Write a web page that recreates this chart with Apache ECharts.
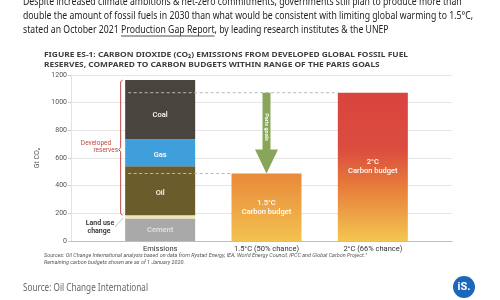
<!DOCTYPE html>
<html><head><meta charset="utf-8">
<script src="https://cdn.jsdelivr.net/npm/echarts@6/dist/echarts.min.js"></script>
<style>html,body{margin:0;padding:0;background:#fff}#c{width:500px;height:300px}</style>
</head><body><div id="c"></div>
<script>
// ---- data ----
const categories = ['Emissions', '1.5°C (50% chance)', '2°C (66% chance)'];
const cement   = [162, '-', '-'];
const landUse  = [24, '-', '-'];
const oil      = [355, '-', '-'];
const gas      = [195, '-', '-'];
const coal     = [427, '-', '-'];
const budget15 = ['-', 488, '-'];
const budget2  = ['-', '-', 1072];
const yTickValues = [0, 200, 400, 600, 800, 1000, 1200];
const budgetLabels = ['', '1.5°C\nCarbon budget', '2°C\nCarbon budget'];

const headline = [
  'Despite increased climate ambitions & net-zero commitments, governments still plan to produce more than',
  'double the amount of fossil fuels in 2030 than what would be consistent with limiting global warming to 1.5°C,',
  'stated an October 2021 Production Gap Report, by leading research institutes & the UNEP'
];
const figTitle = [
  'FIGURE ES-1: CARBON DIOXIDE (CO₂) EMISSIONS FROM DEVELOPED GLOBAL FOSSIL FUEL',
  'RESERVES, COMPARED TO CARBON BUDGETS WITHIN RANGE OF THE PARIS GOALS'
];
const sources = [
  'Sources: Oil Change International analysis based on data from Rystad Energy, IEA, World Energy Council, IPCC and Global Carbon Project.¹',
  'Remaining carbon budgets shown are as of 1 January 2020.'
];
const footer = 'Source: Oil Change International';

// ---- helpers ----
const mctx = document.createElement('canvas').getContext('2d');
function w(text, font){ mctx.font = font; return mctx.measureText(text).width; }

const FF = 'Roboto, "Noto Sans", sans-serif';
const headFont = '11.5px "Noto Sans", sans-serif';
const headScale = 450 / w(headline[1], headFont);
const titleFont = 'bold 7.5px "Noto Sans", sans-serif';
const titleScale = 364 / w(figTitle[0], titleFont);
const srcFont = 'italic 5.5px Roboto, sans-serif';
const srcScale = 323 / w(sources[0], srcFont);
const footFont = '10px "Noto Sans", sans-serif';
const footScale = 125 / w(footer, footFont);

const u0 = w('stated an October 2021 ', headFont) * headScale;
const u1 = w('Production Gap Report', headFont) * headScale;

const barW = 70;
const total = [0,1,2].map(i => [cement, landUse, oil, gas, coal].reduce((s,a)=> s + (typeof a[i]==='number'?a[i]:0), 0));

const chart = echarts.init(document.getElementById('c'), null, {renderer:'canvas'});

function stackSeries(name, data, color, labelOpt){
  return {
    name, type:'bar', stack:'all', data, xAxisIndex:1, yAxisIndex:1, barWidth:barW,
    itemStyle:{color},
    label: Object.assign({show:true, position:'inside', formatter:'{a}', color:'#fff', fontSize:7.5, fontWeight:500, fontFamily:FF}, labelOpt||{}),
    emphasis:{disabled:true}
  };
}

const grad15 = new echarts.graphic.LinearGradient(0,0,0,1,[
  {offset:0, color:'#e9893b'},{offset:1, color:'#f3c24f'}]);
const grad2 = new echarts.graphic.LinearGradient(0,0,0,1,[
  {offset:0, color:'#d9443f'},{offset:0.38, color:'#db4c3e'},{offset:0.62, color:'#e67a3a'},{offset:1, color:'#f4c650'}]);

const option = {
  backgroundColor:'#fff',
  animation:false,
  textStyle:{fontFamily:FF},
  grid:[
    {left:71, right:48, top:75, bottom:59},
    {left:107, right:74, top:75, bottom:59}
  ],
  xAxis:[
    {gridIndex:0, type:'value', min:0, max:1, axisLine:{show:true, lineStyle:{color:'#bdbdbd'}}, axisTick:{show:false}, axisLabel:{show:false}, splitLine:{show:false}},
    {gridIndex:1, type:'category', data:categories, axisLine:{show:false}, axisTick:{show:false},
     axisLabel:{fontSize:7.5, color:'#333', margin:4, fontFamily:FF}}
  ],
  yAxis:[
    {gridIndex:0, type:'value', min:yTickValues[0], max:yTickValues[yTickValues.length-1], interval:yTickValues[1]-yTickValues[0],
     name:'Gt CO₂', nameLocation:'middle', nameRotate:90, nameGap:23, nameTextStyle:{fontSize:7, color:'#555'},
     axisLine:{show:true, lineStyle:{color:'#e3e3e3'}}, axisTick:{show:true, length:3, lineStyle:{color:'#ccc'}},
     axisLabel:{fontSize:7, color:'#555', margin:4, formatter:v=>String(v)}, splitLine:{lineStyle:{color:'#e6e6e6'}}},
    {gridIndex:1, type:'value', min:yTickValues[0], max:yTickValues[yTickValues.length-1], show:false}
  ],
  series:[
    stackSeries('Cement', cement, '#a9a9a9', {color:'#e4e4e4'}),
    stackSeries('Land use change', landUse, '#efe8b4', {show:false}),
    stackSeries('Oil', oil, '#6a5c2b', {offset:[0,2]}),
    stackSeries('Gas', gas, '#3e9fdb', {offset:[0,2]}),
    stackSeries('Coal', coal, '#49443e', {offset:[0,5]}),
    {name:'1.5°C budget', type:'bar', stack:'all', data:budget15, xAxisIndex:1, yAxisIndex:1, barWidth:barW,
     itemStyle:{color:grad15}, emphasis:{disabled:true},
     label:{show:true, position:'inside', formatter:p=>budgetLabels[p.dataIndex], color:'#fff', fontSize:7.5, lineHeight:9, fontWeight:500}},
    {name:'2°C budget', type:'bar', stack:'all', data:budget2, xAxisIndex:1, yAxisIndex:1, barWidth:barW,
     itemStyle:{color:grad2}, emphasis:{disabled:true},
     label:{show:true, position:'inside', formatter:p=>budgetLabels[p.dataIndex], color:'#fff', fontSize:7.5, lineHeight:9, fontWeight:500}},
    // dashed reference lines from emissions bar to budget bars
    {type:'custom', xAxisIndex:1, yAxisIndex:1, z:5, silent:true,
     data:[[2, budget2[2]], [1, budget15[1]]],
     renderItem:(params, api)=>{
       const y = api.value(1), t = api.value(0);
       const p0 = api.coord([0, y]), p1 = api.coord([t, y]);
       return {type:'line', shape:{x1:p0[0]-32, y1:p0[1], x2:p1[0]-barW/2, y2:p1[1]},
               style:{stroke:'#b8b8b8', lineWidth:1, lineDash:[3,2.5]}};
     }},
    // Paris goals arrow
    {type:'custom', xAxisIndex:1, yAxisIndex:1, z:6, silent:true,
     data:[[1, budget2[2], budget15[1]]],
     renderItem:(params, api)=>{
       const top = api.coord([api.value(0), api.value(1)]);
       const tip = api.coord([api.value(0), api.value(2)]);
       const x = top[0], hs = 4, hh = 11.5, hl = 24;
       const yb = tip[1] - hl;
       return {type:'group', children:[
         {type:'polygon', shape:{points:[[x-hs,top[1]],[x+hs,top[1]],[x+hs,yb],[x+hh,yb],[x,tip[1]],[x-hh,yb],[x-hs,yb]]},
          style:{fill:'#89a55a'}},
         {type:'text', x:x, y:(top[1]+yb)/2+6, rotation:-Math.PI/2,
          style:{text:'Paris goals', fill:'#fff', font:'600 5.5px Roboto, sans-serif', align:'center', verticalAlign:'middle'}}
       ]};
     }},
    // Developed reserves bracket
    {type:'custom', xAxisIndex:1, yAxisIndex:1, z:6, silent:true,
     data:[[0, total[0], cement[0]+landUse[0]]],
     renderItem:(params, api)=>{
       const a = api.coord([api.value(0), api.value(1)]);
       const b = api.coord([api.value(0), api.value(2)]);
       const x = a[0]-39.5, t = a[1], bt = b[1], m = (t+bt)/2 + 2;
       return {type:'polyline', shape:{points:[[x+2,t],[x,t+1.5],[x,m-2],[x-2,m],[x,m+2],[x,bt-1.5],[x+2,bt]]},
               style:{stroke:'#c0463f', lineWidth:1, fill:null}};
     }}
  ],
  graphic:{elements:[
    {type:'text', x:23, y:2, scaleX:headScale, style:{text:headline[0], font:headFont, fill:'#222', verticalAlign:'middle'}},
    {type:'text', x:23, y:16, scaleX:headScale, style:{text:headline[1], font:headFont, fill:'#222', verticalAlign:'middle'}},
    {type:'text', x:23, y:30, scaleX:headScale, style:{text:headline[2], font:headFont, fill:'#222', verticalAlign:'middle'}},
    {type:'line', shape:{x1:23+u0, y1:36, x2:23+u0+u1, y2:36}, style:{stroke:'#222', lineWidth:0.8}},
    {type:'text', x:44, y:55, scaleX:titleScale, style:{text:figTitle[0], font:titleFont, fill:'#3d3d3d', verticalAlign:'middle'}},
    {type:'text', x:44, y:65, scaleX:titleScale, style:{text:figTitle[1], font:titleFont, fill:'#3d3d3d', verticalAlign:'middle'}},
    {type:'text', x:96, y:143.5, style:{text:'Developed', font:'6.5px Roboto, sans-serif', fill:'#c0463f', align:'center', verticalAlign:'middle'}},
    {type:'text', x:118, y:150.5, style:{text:'reserves', font:'6.5px Roboto, sans-serif', fill:'#c0463f', align:'right', verticalAlign:'middle'}},
    {type:'text', x:100, y:223, style:{text:'Land use', font:'600 7px Roboto, sans-serif', fill:'#333', align:'center', verticalAlign:'middle'}},
    {type:'text', x:99, y:231, style:{text:'change', font:'600 7px Roboto, sans-serif', fill:'#333', align:'center', verticalAlign:'middle'}},
    {type:'line', shape:{x1:115, y1:227, x2:123, y2:218}, style:{stroke:'#aaa', lineWidth:0.7}},
    {type:'text', x:44, y:255.5, scaleX:srcScale, style:{text:sources[0], font:srcFont, fill:'#555', verticalAlign:'middle'}},
    {type:'text', x:44, y:262.5, scaleX:srcScale, style:{text:sources[1], font:srcFont, fill:'#555', verticalAlign:'middle'}},
    {type:'text', x:23, y:288, scaleX:footScale, style:{text:footer, font:footFont, fill:'#666', verticalAlign:'middle'}},
    {type:'circle', shape:{cx:464, cy:287, r:11}, style:{fill:'#1b67b9'}},
    {type:'text', x:464, y:287, style:{text:'iS.', font:'bold 11px Roboto, sans-serif', fill:'#fff', align:'center', verticalAlign:'middle'}}
  ]}
};
chart.setOption(option);
</script></body></html>
